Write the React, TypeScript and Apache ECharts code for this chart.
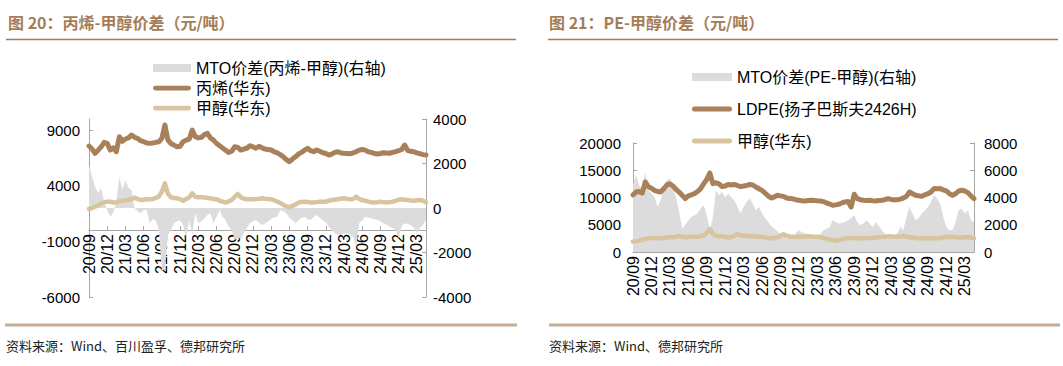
import React, { useEffect, useRef } from 'react';
import * as echarts from 'echarts';

// ---- categories: semi-monthly dates from 2020-09 to 2025-04 ----
const categories: string[] = (() => {
  const out: string[] = [];
  let y = 2020;
  let m = 9;
  for (let k = 0; k < 56; k++) {
    const mm = String(m).padStart(2, '0');
    out.push(`${y}-${mm}-01`, `${y}-${mm}-16`);
    m++;
    if (m > 12) { m = 1; y++; }
  }
  return out;
})();

// ---- chart 20: propylene - methanol ----
const propylene = [
  7570, 7300, 6920, 7200, 7500, 7900, 7810, 7210, 7400, 7060,
  8410, 8000, 8200, 8300, 8560, 8350, 8260, 8050, 7960, 7850,
  7810, 7850, 7900, 7960, 8260, 9460, 8110, 7800, 7650, 7500,
  7550, 7960, 8100, 8190, 9010, 8410, 8300, 8350, 8600, 8710,
  8300, 8100, 7810, 7600, 7400, 7200, 7000, 7100, 7510, 7450,
  7210, 7300, 7370, 7600, 7500, 7370, 7550, 7400, 7300, 7250,
  7210, 7060, 6950, 6800, 6610, 6350, 6160, 6400, 6600, 6850,
  7000, 7200, 7370, 7150, 7060, 7210, 7100, 6970, 6900, 6760,
  6850, 7000, 7060, 6950, 6920, 6900, 6880, 6950, 7060, 7200,
  7260, 7200, 7060, 7000, 6900, 6860, 6900, 6970, 6950, 6920,
  7000, 7060, 7150, 7260, 7660, 7160, 7100, 7060, 6950, 6880,
  6800, 6760,
];

const methanol = [
  1910, 2000, 2120, 2250, 2420, 2500, 2570, 2560, 2500, 2490,
  2600, 2660, 2700, 2720, 2800, 2930, 2800, 2720, 2750, 2780,
  2780, 2800, 2900, 3020, 3470, 4220, 3300, 2960, 2900, 2870,
  2800, 2660, 2800, 2960, 3320, 3000, 2960, 2960, 2950, 2900,
  2870, 2800, 2780, 2650, 2570, 2490, 2600, 2720, 3000, 3260,
  2960, 2850, 2780, 2780, 2780, 2800, 2830, 2870, 2830, 2800,
  2780, 2700, 2570, 2450, 2270, 2150, 2060, 2200, 2300, 2480,
  2550, 2570, 2550, 2500, 2490, 2530, 2570, 2570, 2570, 2650,
  2720, 2750, 2780, 2850, 2870, 2820, 2780, 2800, 3020, 2800,
  2720, 2650, 2570, 2520, 2490, 2520, 2570, 2530, 2490, 2530,
  2570, 2650, 2750, 2780, 2750, 2720, 2680, 2660, 2700, 2720,
  2650, 2520,
];

const mtoPropylene = [
  1930, 1400, 960, 660, 900, 280, -100, -390, -200, 300,
  1400, 810, 1260, 900, 810, 0, -150, -240, -100, -90,
  -690, -500, -550, -990, -2790, -2790, -1200, -990, -690, -600,
  -550, -760, -1300, -550, -1200, -240, -690, -600, -470, -300,
  -240, -690, -390, -90, -400, -550, -840, -1000, -1440, -1300,
  -1400, -1140, -900, -690, -600, -540, -650, -760, -700, -610,
  -500, -420, -390, -90, -150, -240, -450, -540, -690, -550,
  -450, -390, -500, -540, -400, -310, -450, -540, -650, -840,
  -1000, -1140, -1200, -1210, -1150, -1140, -1200, -1290, -1740, -690,
  -550, -390, -430, -470, -500, -540, -600, -690, -750, -840,
  -900, -990, -1360, -800, -690, -720, -760, -900, -1140, -900,
  -760, -540,
];

// ---- chart 21: PE - methanol ----
const ldpe = [
  10500, 11000, 11100, 10800, 12850, 12000, 11700, 11320, 11100, 11000,
  11600, 12300, 12500, 12100, 11500, 11000, 10400, 9800, 10300, 10500,
  10720, 11100, 11630, 12500, 13300, 14500, 12550, 12700, 12500, 12000,
  12100, 12400, 12300, 12400, 12200, 12000, 12100, 12200, 12400, 12300,
  11930, 11600, 11300, 10800, 10300, 9900, 10100, 10400, 10300, 10200,
  9900, 9800, 9750, 9600, 9490, 9400, 9370, 9450, 9500, 9450,
  9400, 9370, 9250, 9000, 8800, 8570, 8650, 8750, 9000, 9190,
  9250, 8260, 10600, 9800, 9600, 9490, 9450, 9490, 9400, 9370,
  9450, 9490, 9600, 9800, 9650, 9600, 9600, 9700, 9900, 10200,
  11010, 10700, 10400, 10300, 10200, 10500, 10700, 11010, 11630, 11600,
  11630, 11400, 11200, 10720, 10400, 10700, 11190, 11320, 11200, 10900,
  10300, 9800,
];

const mtoPE = [
  5000, 5630, 4900, 4650, 5870, 4530, 4300, 4040, 3300, 3790,
  4650, 5260, 5390, 4770, 4000, 3000, 1720, 2000, 2300, 2570,
  2700, 2820, 3190, 3430, 2690, 1590, 2570, 4530, 4160, 4400,
  4040, 4280, 4000, 3790, 3300, 2820, 3300, 3670, 3920, 3550,
  3060, 3300, 2820, 2500, 2200, 1900, 1720, 1530, 1300, 1200,
  1000, 1050, 1100, 1350, 1590, 1450, 1350, 1300, 1230, 1150,
  1100, 1300, 1590, 1700, 1840, 2330, 2200, 2080, 2150, 2200,
  2330, 2500, 2690, 2200, 1960, 2100, 2330, 2100, 1840, 2200,
  1900, 1590, 1350, 1200, 1100, 1200, 1350, 1840, 1590, 2570,
  3300, 2820, 2330, 2500, 2820, 3060, 3300, 3670, 4160, 3920,
  3550, 2570, 1840, 1600, 1590, 2200, 3060, 3190, 2820, 3060,
  2330, 2200,
];

// ---- tick labels ----
const leftTicks20 = [-6000, -1000, 4000, 9000];
const rightTicks20 = [-4000, -2000, 0, 2000, 4000];
const leftTicks21 = [0, 5000, 10000, 15000, 20000];
const rightTicks21 = [0, 2000, 4000, 6000, 8000];

const names20 = ['MTO价差(丙烯-甲醇)(右轴)', '丙烯(华东)', '甲醇(华东)'];
const names21 = ['MTO价差(PE-甲醇)(右轴)', 'LDPE(扬子巴斯夫2426H)', '甲醇(华东) '];

const title20 = '图 20：丙烯-甲醇价差（元/吨）';
const title21 = '图 21：PE-甲醇价差（元/吨）';
const source20 = '资料来源：Wind、百川盈孚、德邦研究所';
const source21 = '资料来源：Wind、德邦研究所';

const FONT = "'Liberation Sans', Arial, 'Noto Sans CJK SC', sans-serif";
const CJK = "'Noto Sans CJK SC', sans-serif";
const BROWN = '#A8815A';
const TAN = '#D8C59F';
const GRAY = '#DCDCDC';
const AXIS = '#A6A6A6';
const TITLE = '#A47D58';
const LINE_ICON = 'path://M2.5,0 H37.5 A2.5,2.5 0 0 1 37.5,5 H2.5 A2.5,2.5 0 0 1 2.5,0 Z';

const labelInterval = (i: number) => i % 6 === 0;
const fmtDate = (v: string) => `${v.slice(2, 4)}/${v.slice(5, 7)}`;

function xAxis(gridIndex: number, offset: number) {
  return {
    type: 'category',
    gridIndex,
    position: 'bottom',
    offset,
    data: categories,
    boundaryGap: false,
    axisLine: { show: true, onZero: false, lineStyle: { color: AXIS, width: 1 } },
    axisTick: { show: true, inside: true, length: 4, interval: labelInterval, lineStyle: { color: AXIS } },
    axisLabel: {
      interval: labelInterval, rotate: 90, formatter: fmtDate, fontSize: 16,
      color: '#000', margin: 4, fontFamily: FONT,
    },
    splitLine: { show: false },
  };
}

function yAxis(gridIndex: number, position: string, min: number, max: number, interval: number, ticks: number[], margin: number) {
  return {
    type: 'value',
    gridIndex,
    position,
    min,
    max,
    interval,
    axisLine: { show: true, onZero: false, lineStyle: { color: AXIS, width: 1 } },
    axisTick: { show: true, inside: true, length: 4, lineStyle: { color: AXIS }, customValues: ticks },
    axisLabel: {
      fontSize: 15, color: '#000', fontFamily: FONT, margin, customValues: ticks,
      showMaxLabel: true, showMinLabel: true,
      formatter: (v: number) => String(v),
    },
    splitLine: { show: false },
  };
}

function areaSeries(name: string, xi: number, yi: number, data: number[]) {
  return {
    name, type: 'line', xAxisIndex: xi, yAxisIndex: yi, data,
    symbol: 'none', showSymbol: false, color: GRAY,
    itemStyle: { color: GRAY },
    lineStyle: { width: 0, color: GRAY },
    areaStyle: { color: GRAY, opacity: 1 },
    silent: true, z: 1,
  };
}

function lineSeries(name: string, xi: number, yi: number, data: number[], color: string, width: number) {
  return {
    name, type: 'line', xAxisIndex: xi, yAxisIndex: yi, data,
    symbol: 'none', showSymbol: false, color,
    itemStyle: { color },
    lineStyle: { width, color, cap: 'round', join: 'round' },
    silent: true, z: 3,
  };
}

function legend(names: string[], left: number, top: number, itemWidth: number, itemGap: number) {
  return {
    orient: 'vertical', left, top, itemWidth, itemHeight: 8, itemGap, padding: 0,
    selectedMode: false,
    textStyle: { fontSize: 16, color: '#000', fontFamily: FONT },
    data: [
      { name: names[0], icon: 'rect' },
      { name: names[1], icon: LINE_ICON },
      { name: names[2], icon: LINE_ICON },
    ],
  };
}

export default function App() {
  const ref = useRef<HTMLDivElement>(null);
  useEffect(() => {
    if (!ref.current) return;
    const chart = echarts.init(ref.current, undefined, { renderer: 'svg' });
    const option: any = {
      animation: false,
      backgroundColor: '#fff',
      textStyle: { fontFamily: FONT },
      grid: [
        { left: 89, right: 1063 - 426, top: 119, bottom: 366 - 297 },
        { left: 633, right: 1063 - 974, top: 143, bottom: 366 - 252 },
      ],
      // left chart: category axis sits at the left-axis zero line (-6000..10000 → 0 is 6/16 up)
      xAxis: [xAxis(0, -Math.round((297 - 119) * 6000 / 16000)), xAxis(1, 0)],
      yAxis: [
        yAxis(0, 'left', -6000, 10000, 5000, leftTicks20, 9),
        yAxis(0, 'right', -4000, 4000, 2000, rightTicks20, 7),
        yAxis(1, 'left', 0, 20000, 5000, leftTicks21, 12),
        yAxis(1, 'right', 0, 8000, 2000, rightTicks21, 10),
      ],
      legend: [
        legend(names20, 153, 60, 38, 4),
        legend(names21, 692, 69, 40, 16),
      ],
      series: [
        areaSeries(names20[0], 0, 1, mtoPropylene),
        lineSeries(names20[1], 0, 0, propylene, BROWN, 5),
        lineSeries(names20[2], 0, 0, methanol, TAN, 4.5),
        areaSeries(names21[0], 1, 3, mtoPE),
        lineSeries(names21[1], 1, 2, ldpe, BROWN, 5),
        lineSeries(names21[2], 1, 2, methanol, TAN, 4.5),
      ],
      graphic: [
        { type: 'text', x: 8, y: 22, style: { text: title20, fill: TITLE, font: `bold 16px ${CJK}`, verticalAlign: 'middle' } },
        { type: 'text', x: 549, y: 22, style: { text: title21, fill: TITLE, font: `bold 16px ${CJK}`, verticalAlign: 'middle' } },
        { type: 'line', shape: { x1: 6, y1: 39.5, x2: 516, y2: 39.5 }, style: { stroke: TITLE, lineWidth: 1.5 } },
        { type: 'line', shape: { x1: 548, y1: 39.5, x2: 1058, y2: 39.5 }, style: { stroke: TITLE, lineWidth: 1.5 } },
        { type: 'line', shape: { x1: 5, y1: 325, x2: 517, y2: 325 }, style: { stroke: '#C4AE97', lineWidth: 3 } },
        { type: 'line', shape: { x1: 549, y1: 325, x2: 1060, y2: 325 }, style: { stroke: '#C4AE97', lineWidth: 3 } },
        { type: 'text', x: 6, y: 345, style: { text: source20, fill: '#222', font: `13px ${CJK}`, verticalAlign: 'middle' } },
        { type: 'text', x: 549, y: 345, style: { text: source21, fill: '#222', font: `13px ${CJK}`, verticalAlign: 'middle' } },
      ],
    };
    chart.setOption(option);
    return () => chart.dispose();
  }, []);
  return (
    <div
      ref={ref}
      style={{ position: 'fixed', left: 0, top: 0, width: 1063, height: 366, background: '#fff' }}
    />
  );
}
